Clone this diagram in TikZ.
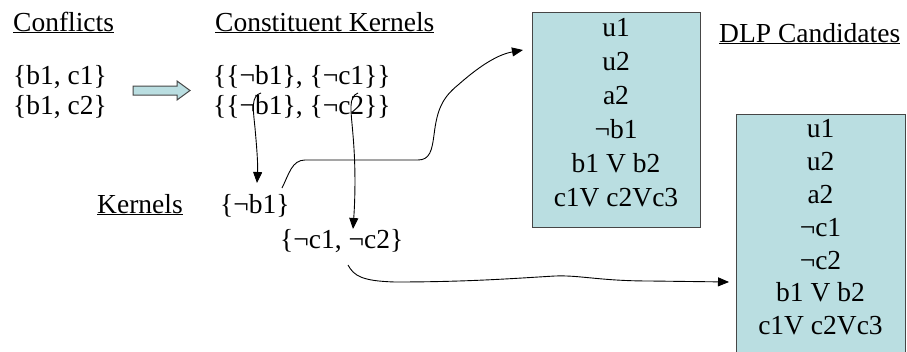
\documentclass[tikz,border=0pt]{standalone}
\usepackage{fontspec}
\setmainfont{Liberation Serif}
\usetikzlibrary{arrows.meta}
\definecolor{boxfill}{RGB}{186,222,225}
\definecolor{boxline}{RGB}{70,70,70}
\begin{document}
\begin{tikzpicture}[x=1pt,y=1pt,
  txt/.style={inner sep=0pt,anchor=base west,font=\fontsize{27.5}{33}\selectfont},
  boxrect/.style={draw=boxline,fill=boxfill,line width=1.2pt,anchor=north west,inner sep=0pt},
  boxtxt/.style={inner sep=0pt,anchor=north,align=center},
  conn/.style={line width=0.9pt,-{Triangle[length=11pt,width=9pt]}}]
\useasboundingbox (0,0) rectangle (907,-351);
\fill[white] (0,0) rectangle (907,-351);
% headings
\node[txt] (conf) at (13,-31) {\underline{Conflicts}};
\node[txt] (consk) at (215,-31) {\underline{Constituent Kernels}};
\node[txt] (dlp) at (719,-42) {\underline{DLP Candidates}};
\node[txt] (kern) at (97,-213) {\underline{Kernels}};
% conflicts
\node[txt] (c1) at (13,-84) {\{b1, c1\}};
\node[txt] (c2) at (13,-114) {\{b1, c2\}};
% constituent kernels
\node[txt] (ck1) at (213,-84) {\{\{¬b1\}, \{¬c1\}\}};
\node[txt] (ck2) at (213,-114) {\{\{¬b1\}, \{¬c2\}\}};
% kernels
\node[txt] (kb1) at (220,-213) {\{¬b1\}};
\node[txt] (kc) at (280,-248) {\{¬c1, ¬c2\}};
% block arrow
\draw[draw=boxline,fill=boxfill,line width=1pt,line join=miter]
  (133,-86) -- (177,-86) -- (177,-81) -- (190,-90.5) -- (177,-100)
  -- (177,-95) -- (133,-95) -- cycle;
% boxes
\node[boxrect,minimum width=168pt,minimum height=215pt] (box1) at (532,-12) {};
\node[boxtxt,font=\fontsize{27.5}{34}\selectfont] (box1t) at (616,-18.5)
  {u1\\u2\\a2\\¬b1\\b1 V b2\\c1V c2Vc3};
\node[boxrect,minimum width=169pt,minimum height=250pt] (box2) at (736,-114) {};
\node[boxtxt,font=\fontsize{27.5}{32.8}\selectfont] (box2t) at (820.5,-119.5)
  {u1\\u2\\a2\\¬c1\\¬c2\\b1 V b2\\c1V c2Vc3};
% connector coordinates
\coordinate (s1) at (261,-93);
\coordinate (e1) at (257,-183);
\coordinate (s2) at (358,-93);
\coordinate (e2) at (353,-229);
\coordinate (s3) at (282,-188);
\coordinate (e3) at (523,-50);
\coordinate (s4) at (348,-265);
\coordinate (e4) at (729,-282);
% connectors
\draw[conn] (s1) .. controls (251,-96) and (253,-108) .. (255,-128)
  .. controls (257,-150) and (258,-165) .. (e1);
\draw[conn] (s2) .. controls (348,-97) and (351,-110) .. (353,-135)
  .. controls (356,-170) and (355,-200) .. (e2);
\draw[conn] (s3) .. controls (289,-174) and (292,-160) .. (305,-160)
  -- (418,-160) .. controls (430,-160) and (432,-150) .. (434,-135)
  .. controls (437,-110) and (442,-98) .. (458,-85)
  .. controls (475,-70) and (495,-55) .. (e3);
\draw[conn] (s4) .. controls (354,-276) and (362,-281) .. (395,-282)
  .. controls (470,-282) and (520,-278) .. (555,-276)
  .. controls (580,-275) and (600,-281) .. (650,-281)
  -- (e4);
\end{tikzpicture}
\end{document}
